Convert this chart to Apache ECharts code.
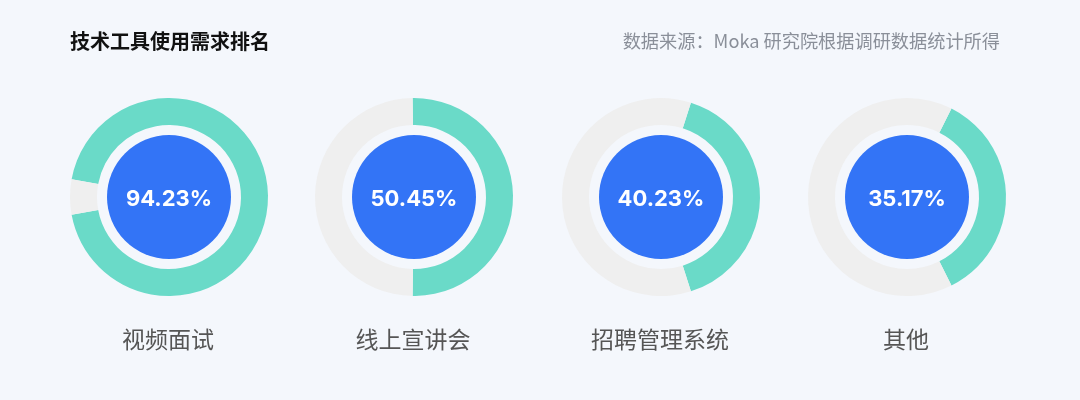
<!DOCTYPE html>
<html>
<head>
<meta charset="utf-8">
<script src="https://cdn.jsdelivr.net/npm/echarts@6/dist/echarts.min.js"></script>
<style>
html,body{margin:0;padding:0;background:#f4f7fc;}
#c{width:1080px;height:400px;}
</style>
</head>
<body>
<div id="c"></div>
<script>
const categories = ['视频面试', '线上宣讲会', '招聘管理系统', '其他'];
const values = [94.23, 50.45, 40.23, 35.17];
const centersX = [169, 414, 661, 907];
const centerY = 197;

const chart = echarts.init(document.getElementById('c'), null, {renderer: 'canvas'});
const FONT = '"Noto Sans CJK SC", "Noto Sans", sans-serif';
const series = [];
const titles = [
  {text: '技术工具使用需求排名', left: 70, top: 31, padding: 0,
   textStyle: {fontSize: 20, fontWeight: 'bold', color: '#111', fontFamily: FONT}},
  {text: '数据来源：Moka 研究院根据调研数据统计所得', right: 80, top: 32, padding: 0,
   textStyle: {fontSize: 18.2, fontWeight: 'normal', color: '#8a8f99', fontFamily: FONT}}
];
categories.forEach((name, i) => {
  const v = values[i];
  series.push({
    type: 'pie', silent: true, radius: [72, 99], center: [centersX[i], centerY],
    startAngle: v * 1.8, clockwise: true,
    label: {show: false}, labelLine: {show: false},
    data: [
      {value: v, name: name, itemStyle: {color: '#6adac8'}},
      {value: 100 - v, name: '其余', itemStyle: {color: '#efefef'}}
    ]
  });
  series.push({
    type: 'pie', silent: true, radius: [0, 62], center: [centersX[i], centerY],
    labelLine: {show: false},
    label: {show: true, position: 'center', formatter: v.toFixed(2) + '%', offset: [0, 2],
      color: '#fff', fontSize: 22, fontWeight: 'bold', fontFamily: 'Inter, "Noto Sans", sans-serif'},
    data: [{value: 1, name: name, itemStyle: {color: '#3374f6'}}]
  });
  titles.push({
    text: name, left: centersX[i] - 1, top: 328, textAlign: 'center', padding: 0,
    textStyle: {fontSize: 23, fontWeight: 'normal', color: '#555', fontFamily: FONT}
  });
});
chart.setOption({
  backgroundColor: '#f4f7fc',
  animation: false,
  title: titles,
  series: series
});
</script>
</body>
</html>
